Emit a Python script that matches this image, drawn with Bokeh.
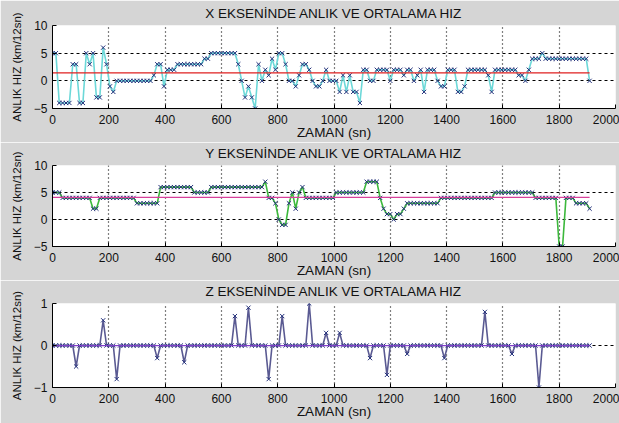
import numpy as np
from bokeh.plotting import figure
from bokeh.layouts import column
from bokeh.models import Range1d, FixedTicker
from bokeh.embed import file_html
from bokeh.resources import INLINE

# Sampling: one reading every 12 seconds
n_samples = 160
t = np.arange(n_samples) * 12

vx = [5, 5, -4, -4, -4, -4, 3, 3, -4, -4,
      5, 3, 5, -3, -3, 6, 3, -1, -2, 0,
      0, 0, 0, 0, 0, 0, 0, 0, 0, 0,
      1, 3, 3, -1, 2, 2, 2, 3, 3, 3,
      3, 3, 3, 3, 3, 4, 4, 5, 5, 5,
      5, 5, 5, 5, 5, 3, 0, -3, -1, -3,
      -5, 3, 0, 2, 1, 4, 2, 5, 5, 3,
      0, 0, -1, 1, 3, 3, 2, 0, -1, -1,
      0, 2, 0, 0, 0, -2, 1, -2, 1, -2,
      -2, -4, 2, 2, 0, 0, 2, 2, 2, 2,
      0, 2, 2, 2, 1, 2, 2, 0, 1, 2,
      -2, 2, 2, 2, 0, -1, -1, 2, 2, 2,
      -2, -2, -1, 2, 2, 2, 2, 2, 2, 1,
      -2, 2, 2, 2, 2, 2, 2, 2, 1, 1,
      0, 2, 4, 4, 4, 5, 4, 4, 4, 4,
      4, 4, 4, 4, 4, 4, 4, 4, 4, 0]

vy = [5, 5, 5, 4, 4, 4, 4, 4, 4, 4,
      4, 4, 2, 2, 4, 4, 4, 4, 4, 4,
      4, 4, 4, 4, 4, 3, 3, 3, 3, 3,
      3, 3, 6, 6, 6, 6, 6, 6, 6, 6,
      6, 6, 5, 5, 5, 5, 5, 6, 6, 6,
      6, 6, 6, 6, 6, 6, 6, 6, 6, 6,
      6, 6, 6, 7, 4, 4, 3, 0, -1, -1,
      3, 5, 2, 5, 6, 4, 4, 4, 4, 4,
      4, 4, 4, 4, 5, 5, 5, 5, 5, 5,
      5, 5, 5, 7, 7, 7, 7, 4, 2, 1,
      1, 0, 1, 1, 2, 3, 3, 3, 3, 3,
      3, 3, 3, 3, 3, 4, 4, 4, 4, 4,
      4, 4, 4, 4, 4, 4, 4, 4, 4, 4,
      4, 5, 5, 5, 5, 5, 5, 5, 5, 5,
      5, 5, 5, 4, 4, 4, 4, 4, 4, 4,
      -5, -5, 4, 4, 4, 3, 3, 3, 3, 2]

# Z is zero apart from a few short spikes
vz = [0.0] * n_samples
z_spikes = {7: -0.5, 15: 0.6, 19: -0.8, 31: -0.3, 39: -0.4,
            54: 0.7, 58: 0.9, 64: -0.8, 68: 0.7, 76: 1.0,
            81: 0.3, 85: 0.3, 94: -0.3, 99: -0.7, 105: -0.2,
            116: -0.3, 128: 0.8, 136: -0.2, 144: -1.0}
for k, v in z_spikes.items():
    vz[k] = v

x_ticks = list(range(0, 2001, 200))
titles = ["X EKSENİNDE ANLIK VE ORTALAMA HIZ",
          "Y EKSENİNDE ANLIK VE ORTALAMA HIZ",
          "Z EKSENİNDE ANLIK VE ORTALAMA HIZ"]
x_label = "ZAMAN (sn)"
y_label = "ANLIK HIZ (km/12sn)"

FONT = "Liberation Sans"
BG = "#d5d5d5"
MARK = "#23307a"
TXT = "#111111"


def panel(values, title, y_lo, y_hi, y_ticks, line_color, mean_color,
          height, top, bottom):
    p = figure(width=619, height=height, output_backend="svg",
               toolbar_location=None, title=title,
               x_range=Range1d(0, 2000), y_range=Range1d(y_lo, y_hi),
               min_border=0, min_border_left=52, min_border_right=4,
               min_border_top=top, min_border_bottom=bottom)
    p.border_fill_color = BG
    p.background_fill_color = "white"
    p.outline_line_color = None

    p.title.align = "center"
    p.title.vertical_align = "top"
    p.title.text_font = FONT
    p.title.text_font_size = "13.5px"
    p.title.text_font_style = "normal"
    p.title.text_color = TXT
    p.title.text_line_height = 1.0
    p.title.standoff = 6

    for ax in (p.xaxis[0], p.yaxis[0]):
        ax.major_tick_in = 4
        ax.major_tick_out = 0
        ax.minor_tick_line_color = None
        ax.axis_line_color = "black"
        ax.major_label_text_font = FONT
        ax.major_label_text_font_size = "12px"
        ax.major_label_text_color = TXT
        ax.major_label_text_line_height = 1.0
        ax.axis_label_text_font = FONT
        ax.axis_label_text_font_style = "normal"
        ax.axis_label_text_color = TXT
        ax.axis_label_text_line_height = 1.0

    p.xaxis.ticker = FixedTicker(ticks=x_ticks)
    p.xaxis.major_label_standoff = 6
    p.xaxis.axis_label = x_label
    p.xaxis.axis_label_text_font_size = "13.5px"
    p.xaxis.axis_label_standoff = -2

    p.yaxis.ticker = FixedTicker(ticks=y_ticks)
    p.yaxis.major_label_standoff = 5
    p.yaxis.axis_label = y_label
    p.yaxis.axis_label_text_font_size = "11.5px"
    p.yaxis.axis_label_standoff = 8

    p.xgrid.ticker = FixedTicker(ticks=x_ticks)
    p.ygrid.ticker = FixedTicker(ticks=y_ticks)
    p.xgrid.grid_line_color = "black"
    p.xgrid.grid_line_dash = "1 3"
    p.xgrid.grid_line_width = 1.2
    p.ygrid.grid_line_color = "black"
    p.ygrid.grid_line_dash = "3 3"
    p.ygrid.grid_line_width = 1

    mean_val = float(np.mean(values))
    p.line(t, values, line_color=line_color, line_width=1.6)
    p.scatter(t, values, marker="x", size=6, line_color=MARK, line_width=1)
    p.line(t, [mean_val] * n_samples, line_color=mean_color, line_width=1.3)
    return p


p1 = panel(vx, titles[0], -5, 10, [-5, 0, 5, 10], "#6cd8d8", "#e02020",
           142, 25, 30)
p2 = panel(vy, titles[1], -5, 10, [-5, 0, 5, 10], "#3cb83c", "#d8409a",
           138, 21, 31)
p3 = panel(vz, titles[2], -1, 1, [-1, 0, 1], "#5a5a92", "#8040c8",
           143, 21, 36)

layout = column(p1, p2, p3, spacing=0)
open("out.html", "w").write(file_html(layout, INLINE))
